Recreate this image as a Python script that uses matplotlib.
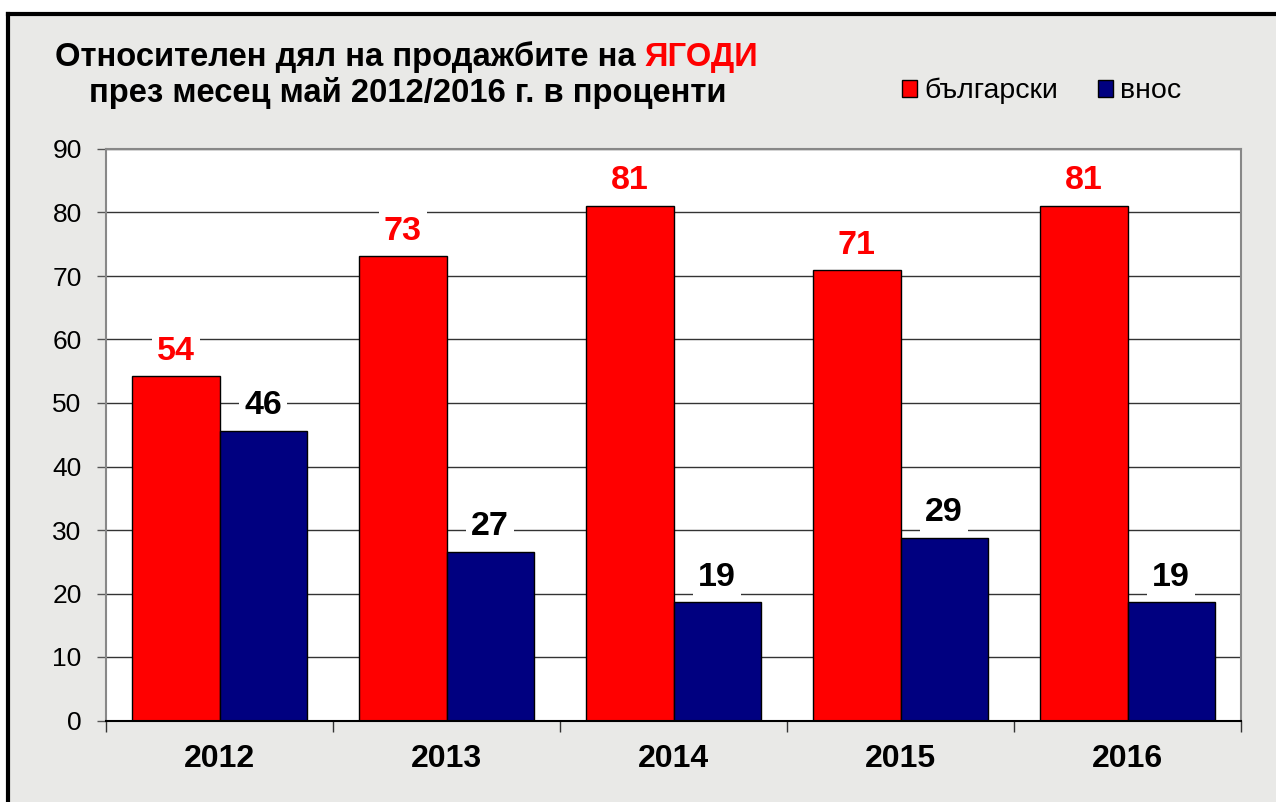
import matplotlib
matplotlib.use("Agg")
import matplotlib.pyplot as plt
from matplotlib.patches import Patch, Rectangle
from matplotlib.lines import Line2D
import numpy as np

plt.rcParams['font.family'] = ['Liberation Sans', 'DejaVu Sans']

# данни
years = ['2012', '2013', '2014', '2015', '2016']
bulgarian = [54.2, 73.1, 81.1, 70.9, 81.1]
imported = [45.6, 26.6, 18.6, 28.8, 18.6]
bulgarian_labels = ['54', '73', '81', '71', '81']
imported_labels = ['46', '27', '19', '29', '19']
series_names = ['български', 'внос']
yticks = [0, 10, 20, 30, 40, 50, 60, 70, 80, 90]

W, H = 1276, 802
fig = plt.figure(figsize=(W / 100, H / 100), dpi=100, facecolor='white')

# фон и рамка
fig.patches.append(Rectangle((6 / W, 0), 1, 1 - 14 / H, transform=fig.transFigure,
                             facecolor='#e9e9e7', edgecolor='none', zorder=-10))
fig.lines.append(Line2D([8 / W, 8 / W], [0, 1 - 13.5 / H], transform=fig.transFigure,
                        color='black', lw=3, solid_capstyle='projecting'))
fig.lines.append(Line2D([8 / W, 1], [1 - 13.5 / H, 1 - 13.5 / H], transform=fig.transFigure,
                        color='black', lw=3, solid_capstyle='projecting'))

ax = fig.add_axes([106 / W, 1 - 720.5 / H, (1241 - 106) / W, (720.5 - 149) / H])
ax.set_facecolor('white')

x = np.arange(len(years))
bw = 0.385
ax.bar(x - bw / 2, bulgarian, bw, color='#ff0000', edgecolor='black', linewidth=1, zorder=3)
ax.bar(x + bw / 2, imported, bw, color='#000080', edgecolor='black', linewidth=1, zorder=3)

for xi, v, lab in zip(x, bulgarian, bulgarian_labels):
    ax.annotate(lab, (xi - bw / 2, v), xytext=(0, 12), textcoords='offset points',
                ha='center', va='baseline', fontsize=24.5, fontweight='bold', color='#ff0000',
                bbox=dict(boxstyle='square,pad=0.15', facecolor='white', edgecolor='none'), zorder=4)
for xi, v, lab in zip(x, imported, imported_labels):
    ax.annotate(lab, (xi + bw / 2, v), xytext=(0, 12), textcoords='offset points',
                ha='center', va='baseline', fontsize=24.5, fontweight='bold', color='black',
                bbox=dict(boxstyle='square,pad=0.15', facecolor='white', edgecolor='none'), zorder=4)

ax.set_xlim(-0.5, len(years) - 0.5)
ax.set_ylim(0, 90)
ax.set_yticks(yticks)
ax.tick_params(axis='y', labelsize=19, length=6.5, width=1, color='#555555', pad=11)
ax.yaxis.grid(True, color='#333333', linewidth=1, zorder=0)

ax.set_xticks(np.arange(len(years) + 1) - 0.5)
ax.set_xticklabels([])
ax.tick_params(axis='x', which='major', length=8, width=1, color='#333333', direction='out')
ax.set_xticks(x, minor=True)
ax.set_xticklabels(years, minor=True, fontsize=23, fontweight='bold')
ax.tick_params(axis='x', which='minor', length=0, pad=17)

for s in ['left', 'top', 'right']:
    ax.spines[s].set_color('#888888')
    ax.spines[s].set_linewidth(1.5)
ax.spines['bottom'].set_color('black')
ax.spines['bottom'].set_linewidth(1.5)
ax.spines['bottom'].set_zorder(5)

# заглавие
t1 = fig.text(55 / W, 1 - 66 / H, 'Относителен дял на продажбите на ', fontsize=23.6,
              fontweight='bold', color='black', ha='left', va='baseline')
fig.canvas.draw()
bb = t1.get_window_extent()
fig.text(bb.x1 / W, 1 - 66 / H, 'ЯГОДИ', fontsize=23.6, fontweight='bold', color='#ff0000',
         ha='left', va='baseline')
fig.text(408 / W, 1 - 102 / H, 'през месец май 2012/2016 г. в проценти', fontsize=23.6,
         fontweight='bold', color='black', ha='center', va='baseline')

# легенда
handles = [Patch(facecolor='#ff0000', edgecolor='black', linewidth=1),
           Patch(facecolor='#000080', edgecolor='black', linewidth=1)]
fig.legend(handles, series_names, loc='center left', bbox_to_anchor=(902 / W, 1 - 91 / H),
           ncol=2, frameon=False, fontsize=20.5, handlelength=0.53, handleheight=0.53,
           handletextpad=0.25, columnspacing=1.4, borderpad=0, borderaxespad=0)

fig.savefig('out.png', dpi=100, facecolor='white')
